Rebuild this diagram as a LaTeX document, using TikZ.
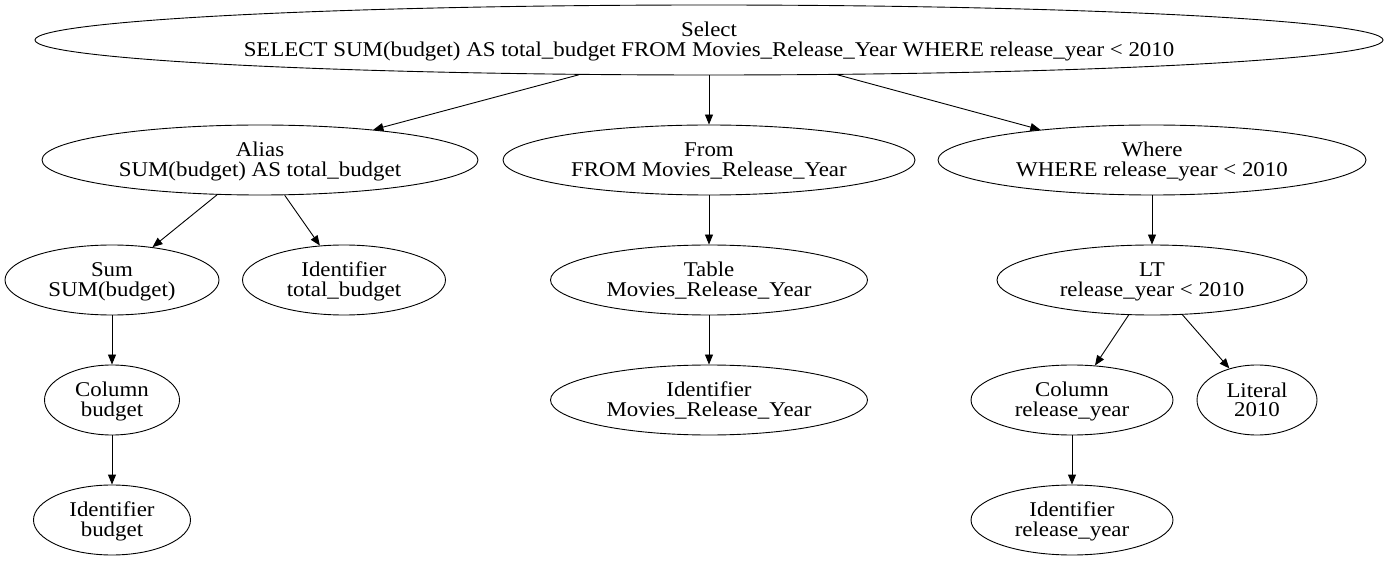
\documentclass[tikz,border=0pt]{standalone}
\usepackage{fontspec}
\setmainfont[FakeStretch=1.09]{Liberation Serif}
\usetikzlibrary{shapes.geometric,arrows.meta}
\newcommand{\lab}[2]{\makebox[0pt][c]{\raisebox{-7.5pt}[0pt][0pt]{\begin{tabular}{@{}c@{}}#1\\#2\end{tabular}}}}
\tikzset{
  tn/.style={ellipse,draw,line width=0.9pt,inner sep=0pt,minimum height=70pt,font=\fontsize{21}{18.5}\selectfont},
  edge/.style={draw,line width=0.9pt,-{Triangle[length=10pt,width=8pt]}}
}
\begin{document}
\begin{tikzpicture}[x=1pt,y=-1pt]
\useasboundingbox (0,0) rectangle (1390,561);
\node[tn,minimum width=1348pt] (sel) at (709,40) {\lab{Select}{SELECT SUM(budget) AS total\_budget FROM Movies\_Release\_Year WHERE release\_year < 2010}};
\node[tn,minimum width=436pt] (alias) at (260,160) {\lab{Alias}{SUM(budget) AS total\_budget}};
\node[tn,minimum width=412pt] (from) at (709,160) {\lab{From}{FROM Movies\_Release\_Year}};
\node[tn,minimum width=428pt] (where) at (1152,160) {\lab{Where}{WHERE release\_year < 2010}};
\node[tn,minimum width=214pt] (sum) at (112,280) {\lab{Sum}{SUM(budget)}};
\node[tn,minimum width=203pt] (idtb) at (344,280) {\lab{Identifier}{total\_budget}};
\node[tn,minimum width=317pt] (tab) at (709,280) {\lab{Table}{Movies\_Release\_Year}};
\node[tn,minimum width=310pt] (lt) at (1152,280) {\lab{LT}{release\_year < 2010}};
\node[tn,minimum width=135pt] (colb) at (112,400) {\lab{Column}{budget}};
\node[tn,minimum width=317pt] (idm) at (709,400) {\lab{Identifier}{Movies\_Release\_Year}};
\node[tn,minimum width=202pt] (colr) at (1072,400) {\lab{Column}{release\_year}};
\node[tn,minimum width=120pt] (lit) at (1257,400) {\lab{Literal}{2010}};
\node[tn,minimum width=157pt] (idb) at (112,520) {\lab{Identifier}{budget}};
\node[tn,minimum width=202pt] (idr) at (1072,520) {\lab{Identifier}{release\_year}};
\draw[edge] (sel) -- (alias);
\draw[edge] (sel) -- (from);
\draw[edge] (sel) -- (where);
\draw[edge] (alias) -- (sum);
\draw[edge] (alias) -- (idtb);
\draw[edge] (from) -- (tab);
\draw[edge] (where) -- (lt);
\draw[edge] (sum) -- (colb);
\draw[edge] (tab) -- (idm);
\draw[edge] (lt) -- (colr);
\draw[edge] (lt) -- (lit);
\draw[edge] (colb) -- (idb);
\draw[edge] (colr) -- (idr);
\end{tikzpicture}
\end{document}
